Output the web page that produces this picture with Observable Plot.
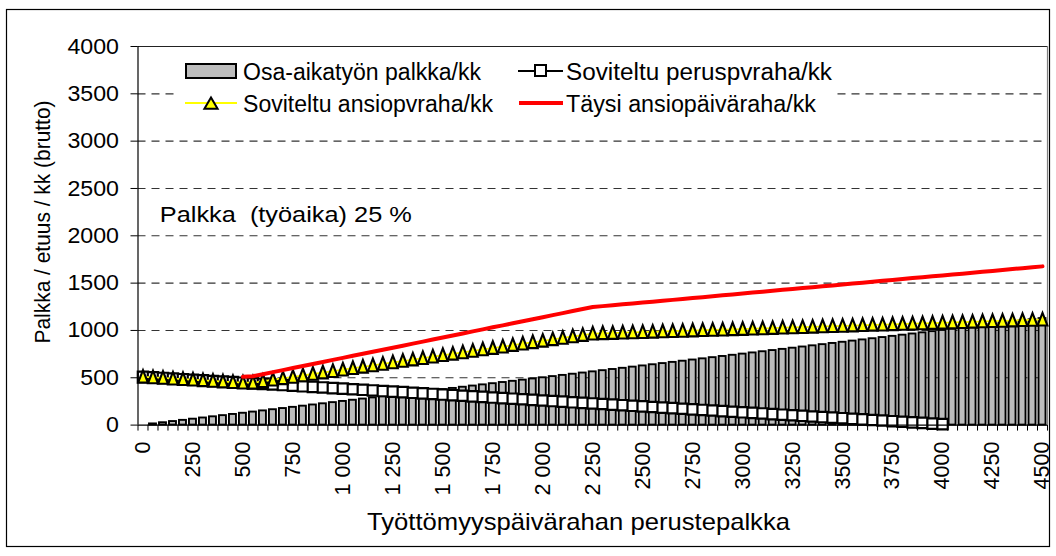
<!DOCTYPE html>
<html><head><meta charset="utf-8">
<script src="https://cdn.jsdelivr.net/npm/d3@7"></script>
<script src="https://cdn.jsdelivr.net/npm/@observablehq/plot@0.6"></script>
<style>
html,body{margin:0;padding:0;background:#fff;}
#wrap{position:relative;width:1056px;height:556px;overflow:hidden;font-family:"Liberation Sans",Arial,sans-serif;}
#wrap > svg{position:absolute;left:0;top:0;}
</style></head><body><div id="wrap"></div>
<script>
// Categories on the x axis (Työttömyyspäivärahan perustepalkka)
const categories = [0,50,100,150,200,250,300,350,400,450,500,550,600,650,700,750,800,850,900,950,
1000,1050,1100,1150,1200,1250,1300,1350,1400,1450,1500,1550,1600,1650,1700,1750,1800,1850,1900,1950,
2000,2050,2100,2150,2200,2250,2300,2350,2400,2450,2500,2550,2600,2650,2700,2750,2800,2850,2900,2950,
3000,3050,3100,3150,3200,3250,3300,3350,3400,3450,3500,3550,3600,3650,3700,3750,3800,3850,3900,3950,
4000,4050,4100,4150,4200,4250,4300,4350,4400,4450,4500];

// Osa-aikatyön palkka/kk (bars)
const wage = [0,12.5,25,37.5,50,62.5,75,87.5,100,112.5,125,137.5,150,162.5,175,187.5,200,212.5,225,237.5,
250,262.5,275,287.5,300,312.5,325,337.5,350,362.5,375,387.5,400,412.5,425,437.5,450,462.5,475,487.5,
500,512.5,525,537.5,550,562.5,575,587.5,600,612.5,625,637.5,650,662.5,675,687.5,700,712.5,725,737.5,
750,762.5,775,787.5,800,812.5,825,837.5,850,862.5,875,887.5,900,912.5,925,937.5,950,962.5,975,987.5,
1000,1012.5,1025,1037.5,1050,1062.5,1075,1087.5,1100,1112.5,1125];

// Soviteltu peruspvraha/kk (squares), categories 0..4000
const basicAdjusted = [510,504,498,491,485,479,473,466,460,454,448,441,435,429,423,416,410,404,398,391,
385,379,373,366,360,354,348,341,335,329,323,316,310,304,298,291,285,279,273,266,
260,254,248,241,235,229,223,216,210,204,198,191,185,179,173,166,160,154,148,141,
135,129,123,116,110,104,98,91,85,79,73,66,60,54,48,41,35,29,23,16,10];

// Soviteltu ansiopvraha/kk (triangles)
const earningsAdjusted = [510,504,498,491,485,479,473,466,460,454,448,448,463,479,494,509,524,540,555,570,
585,601,616,631,646,662,677,692,707,723,738,753,768,784,799,814,829,845,860,875,
890,906,921,936,951,966,970,972,976,979,982,985,989,992,995,999,1002,1006,1008,1012,
1015,1019,1021,1025,1029,1032,1035,1038,1042,1045,1048,1051,1055,1059,1061,1065,1068,1072,1074,1078,
1081,1085,1087,1091,1095,1098,1101,1104,1108,1111,1114];

// Täysi ansiopäiväraha/kk (red line), categories 500..4500
const fullEarnings = [510,517,538,560,581,603,624,646,667,689,
710,732,753,775,796,818,839,861,882,904,925,947,968,990,1011,1033,1054,1076,1097,1119,
1140,1162,1183,1205,1226,1247,1257,1266,1276,1285,1295,1304,1314,1323,1333,1343,1352,1362,1371,1381,
1390,1400,1409,1419,1429,1438,1448,1457,1467,1476,1486,1495,1505,1515,1524,1534,1543,1553,1562,1572,
1581,1591,1600,1610,1620,1629,1639,1648,1658,1667,1677];
const fullStartIndex = 10;

const xTickValues = [0,250,500,750,1000,1250,1500,1750,2000,2250,2500,2750,3000,3250,3500,3750,4000,4250,4500];
const xTickLabels = ["0","250","500","750","1 000","1 250","1 500","1 750","2 000","2 250","2500","2750","3000","3250","3500","3750","4000","4250","4500"];
const yTickValues = [0,500,1000,1500,2000,2500,3000,3500,4000];
const yTickLabels = ["0","500","1000","1500","2000","2500","3000","3500","4000"];

const seriesNames = ["Osa-aikatyön palkka/kk","Soviteltu peruspvraha/kk","Soviteltu ansiopvraha/kk","Täysi ansiopäiväraha/kk"];
const annotation = "Palkka  (työaika) 25 %";
const xTitle = "Työttömyyspäivärahan perustepalkka";
const yTitle = "Palkka / etuus / kk (brutto)";

// tables built from the arrays
const step = categories[1] - categories[0];
const rows = categories.map((x, i) => ({x, wage: wage[i], earn: earningsAdjusted[i]}));
const basicRows = basicAdjusted.map((v, i) => ({x: categories[i], v}));
const fullRows = fullEarnings.map((v, i) => ({x: categories[fullStartIndex + i], v}));
const boundaries = categories.map(c => c - step / 2).concat([categories[categories.length - 1] + step / 2]);
const xDomain = [boundaries[0], boundaries[boundaries.length - 1]];

// Excel-like marker shapes
const triangleMarker = {draw(ctx) { ctx.moveTo(0, -6.8); ctx.lineTo(4.9, 5.8); ctx.lineTo(-4.9, 5.8); ctx.closePath(); }};
const squareMarker = {draw(ctx) { ctx.rect(-5.2, -5.2, 10.4, 10.4); }};

const FONT = '"Liberation Sans", Arial, sans-serif';

const chart = Plot.plot({
  width: 1056,
  height: 556,
  marginLeft: 137.5,
  marginRight: 9,
  marginTop: 46,
  marginBottom: 131.4,
  style: {fontFamily: FONT, fontSize: "22px", color: "#000", background: "transparent", overflow: "visible"},
  x: {type: "linear", domain: xDomain, axis: null},
  y: {domain: [0, 4000], axis: null},
  marks: [
    Plot.gridY(yTickValues.slice(1, -1), {stroke: "#333", strokeOpacity: 1, strokeDasharray: "8,6", strokeWidth: 1.1}),
    Plot.ruleY([yTickValues[yTickValues.length - 1]], {stroke: "#222", strokeWidth: 1.2}),
    Plot.ruleX([xDomain[1]], {stroke: "#808080", strokeWidth: 1.2}),
    Plot.rectY(rows, {x1: d => d.x - step * 0.35, x2: d => d.x + step * 0.35, y: "wage", fill: "#bdbdbd", stroke: "#000", strokeWidth: 1.9}),
    Plot.line(basicRows, {x: "x", y: "v", stroke: "#000", strokeWidth: 1.9}),
    Plot.dot(basicRows, {x: "x", y: "v", symbol: squareMarker, r: 5, fill: "#fff", stroke: "#000", strokeWidth: 2.2}),
    Plot.line(rows, {x: "x", y: "earn", stroke: "#ffff00", strokeWidth: 1.8}),
    Plot.dot(rows, {x: "x", y: "earn", symbol: triangleMarker, r: 5, fill: "#ffff00", stroke: "#000", strokeWidth: 2.1}),
    Plot.line(fullRows, {x: "x", y: "v", stroke: "#ff0000", strokeWidth: 4}),
    Plot.ruleX([xDomain[0]], {stroke: "#000", strokeWidth: 1.2}),
    Plot.ruleY([0], {stroke: "#000", strokeWidth: 1.2}),
    Plot.axisY({ticks: yTickValues, tickFormat: d => yTickLabels[yTickValues.indexOf(d)], tickSize: 7, tickPadding: 12, anchor: "left", label: null, stroke: "#000", fontSize: 22}),
    Plot.axisX({ticks: boundaries, tickFormat: () => "", tickSize: 6, anchor: "bottom", label: null, stroke: "#000"}),
    Plot.axisX({ticks: xTickValues, tickFormat: d => xTickLabels[xTickValues.indexOf(d)], tickSize: 0, tickPadding: 16.5, tickRotate: -90, anchor: "bottom", label: null, fontSize: 21.5}),
    Plot.text([annotation], {frameAnchor: "top-left", dx: 21.8, dy: 168, textAnchor: "start", lineAnchor: "middle", fontSize: 22, fill: "#000"})
  ]
});

const wrap = document.getElementById("wrap");
wrap.appendChild(chart);

function fit(t, len) {
  t.setAttribute("textLength", len);
  t.setAttribute("lengthAdjust", "spacingAndGlyphs");
}

chart.querySelectorAll("text").forEach(t => { t.style.whiteSpace = "pre"; });
chart.querySelectorAll('g[aria-label="y-axis tick label"] text').forEach(t => { t.style.fontSize = "22px"; fit(t, (t.textContent.length * 12.9).toFixed(1)); });
chart.querySelectorAll('g[aria-label="x-axis tick label"] text').forEach(t => { t.style.fontSize = "21.5px"; });
chart.querySelectorAll('g[aria-label="text"] text').forEach(t => fit(t, 252));

// overlay: border, legend, axis titles
const ns = "http://www.w3.org/2000/svg";
const ov = document.createElementNS(ns, "svg");
ov.setAttribute("width", 1056); ov.setAttribute("height", 556);
ov.style.fontFamily = FONT;
wrap.appendChild(ov);
function el(name, attrs, parent = ov) {
  const e = document.createElementNS(ns, name);
  for (const k in attrs) e.setAttribute(k, attrs[k]);
  parent.appendChild(e);
  return e;
}
function txt(s, attrs, len) {
  const t = el("text", Object.assign({fill: "#000", "font-size": 23, "dominant-baseline": "central"}, attrs));
  t.textContent = s;
  t.style.whiteSpace = "pre";
  if (len) fit(t, len);
  return t;
}
el("rect", {x: 6.5, y: 9.5, width: 1043, height: 537, fill: "none", stroke: "#000", "stroke-width": 1.2});
// legend background
el("rect", {x: 176, y: 53, width: 657, height: 64, fill: "#fff"});
// legend items
el("rect", {x: 186, y: 64, width: 50, height: 14, fill: "#bdbdbd", stroke: "#000", "stroke-width": 2});
txt(seriesNames[0], {x: 243, y: 72}, 238);
el("line", {x1: 185, x2: 237, y1: 103, y2: 103, stroke: "#ffff00", "stroke-width": 1.8});
el("path", {d: "M0,-6L6.6,5.2L-6.6,5.2Z", transform: "translate(211,103.5)", fill: "#ffff00", stroke: "#000", "stroke-width": 2});
txt(seriesNames[2], {x: 243, y: 104}, 250);
el("line", {x1: 518, x2: 563, y1: 71, y2: 71, stroke: "#000", "stroke-width": 1.8});
el("rect", {x: 535, y: 65, width: 11, height: 11, fill: "#fff", stroke: "#000", "stroke-width": 2});
txt(seriesNames[1], {x: 566, y: 72}, 266);
el("line", {x1: 519, x2: 563, y1: 103, y2: 103, stroke: "#ff0000", "stroke-width": 4});
txt(seriesNames[3], {x: 566, y: 104}, 250);
// axis titles
txt(yTitle, {x: 0, y: 0, "text-anchor": "middle", transform: "translate(42.5,222) rotate(-90)", "font-size": 22}, 243);
txt(xTitle, {x: 578.5, y: 521, "text-anchor": "middle", "font-size": 24}, 423);
</script></body></html>
